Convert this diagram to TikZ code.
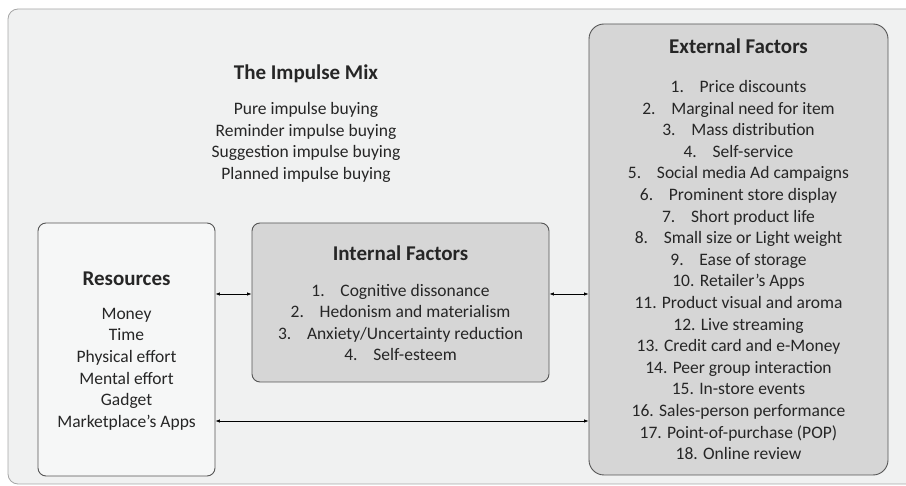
\documentclass[tikz,border=0pt]{standalone}
\usepackage{fontspec}
\setmainfont{Carlito}
\usepackage{xcolor}
\usetikzlibrary{arrows.meta,positioning}

\definecolor{panelbg}{HTML}{F0F1F1}
\definecolor{boxgray}{HTML}{D6D6D6}
\definecolor{boxwhite}{HTML}{F6F7F7}
\definecolor{edgegray}{HTML}{555555}

\begin{document}
\begin{tikzpicture}[x=1pt, y=-1pt, >={Latex[length=4.5pt,width=3.5pt]}]
  % Styles
  \tikzstyle{panel}=[draw=gray!70, fill=panelbg, rounded corners=10pt, line width=0.8pt]
  \tikzstyle{whitebox}=[draw=edgegray, fill=boxwhite, rounded corners=8pt, line width=0.9pt, inner sep=0pt]
  \tikzstyle{graybox}=[draw=edgegray, fill=boxgray, rounded corners=8pt, line width=0.9pt, inner sep=0pt]
  \tikzstyle{title}=[font=\fontsize{21}{25}\selectfont\bfseries, text=black!85]
  \tikzstyle{items}=[font=\fontsize{17.5}{21.6}\selectfont, align=center, text=black!85]
  \tikzstyle{link}=[<->, line width=0.7pt]

  \useasboundingbox (0,0) rectangle (906,486);

  % Background panel
  \draw[panel] (8,9) rectangle (930,484);

  % The impulse mix
  \node[title] (mixtitle) at (306,74) {The Impulse Mix};
  \node[items] (mixlist) at (306,142.5) {Pure impulse buying\\Reminder impulse buying\\Suggestion impulse buying\\Planned impulse buying};

  % Resources
  \node[whitebox, minimum width=177pt, minimum height=253pt] (res) at (126.5,349.5) {};
  \node[title] (restitle) at (126.5,279) {Resources};
  \node[items] (reslist) at (126.5,369) {Money\\Time\\Physical effort\\Mental effort\\Gadget\\Marketplace’s Apps};

  % Internal factors
  \node[graybox, minimum width=297pt, minimum height=159pt] (int) at (400.5,302.5) {};
  \node[title] (inttitle) at (400.5,253) {Internal Factors};
  \node[items] (intlist) at (400.5,322.5) {1.\hspace{0.9em}Cognitive dissonance\\2.\hspace{0.9em}Hedonism and materialism\\3.\hspace{0.9em}Anxiety/Uncertainty reduction\\4.\hspace{0.9em}Self-esteem};

  % External factors
  \node[graybox, rounded corners=15pt, minimum width=299pt, minimum height=451pt] (ext) at (738.5,249.5) {};
  \node[title] (exttitle) at (738.5,46) {External Factors};
  \node[items] (extlist) at (738.5,270) {1.\hspace{0.9em}Price discounts\\2.\hspace{0.9em}Marginal need for item\\3.\hspace{0.9em}Mass distribution\\4.\hspace{0.9em}Self-service\\5.\hspace{0.9em}Social media Ad campaigns\\6.\hspace{0.9em}Prominent store display\\7.\hspace{0.9em}Short product life\\8.\hspace{0.9em}Small size or Light weight\\9.\hspace{0.9em}Ease of storage\\10. Retailer’s Apps\\11. Product visual and aroma\\12. Live streaming\\13. Credit card and e-Money\\14. Peer group interaction\\15. In-store events\\16. Sales-person performance\\17. Point-of-purchase (POP)\\18. Online review};

  % Connectors
  \coordinate (upper) at (0,294);
  \coordinate (lower) at (0,421);
  \draw[link] (res.east |- upper) -- (int.west |- upper);
  \draw[link] (int.east |- upper) -- (ext.west |- upper);
  \draw[link] (res.east |- lower) -- (ext.west |- lower);
\end{tikzpicture}
\end{document}
